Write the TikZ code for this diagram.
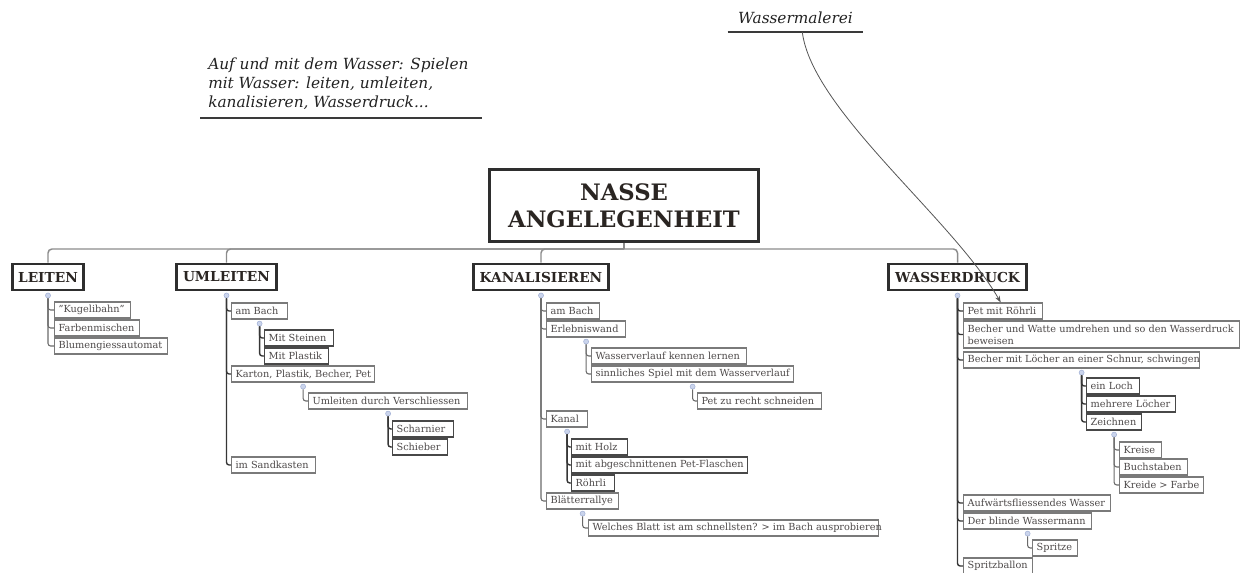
\documentclass[tikz,border=0pt]{standalone}
\usepackage{fontspec}
\setmainfont{DejaVu Serif}
\usetikzlibrary{calc,arrows.meta}
\newdimen\pxu \pxu=0.75pt
\definecolor{leafborder}{HTML}{7A7A7A}
\definecolor{darkborder}{HTML}{484848}
\definecolor{leaftext}{HTML}{4E4A4A}
\definecolor{maintext}{HTML}{2A2522}
\definecolor{mainborder}{HTML}{2E2E2E}
\definecolor{trunkcol}{HTML}{6A6A6A}
\definecolor{darkcol}{HTML}{363636}
\definecolor{topcol}{HTML}{8C8C8C}
\definecolor{dotfill}{HTML}{CAD4EC}
\definecolor{dotdraw}{HTML}{A3B1D6}
\definecolor{floattext}{HTML}{222222}
\definecolor{ulcol}{HTML}{3A3A3A}
\definecolor{curvecol}{HTML}{555555}
\newcommand\leafnode[6][leafbox]{\node[#1] (#2) at (#3,#4) {\makebox[\dimexpr#5\pxu-6pt\relax][l]{#6}};}
\newcommand\dotunder[2]{\node[dotn] (#1) at ($(#2.south)+(0,4)$) {};}
\newcommand\linkto[3][trunk]{\draw[#1] (#2.south) |- (#3.west);}
\begin{document}
\begin{tikzpicture}[x=0.75pt,y=-0.75pt,
 leafbox/.style={draw=leafborder,line width=0.9pt,fill=white,text=leaftext,inner xsep=3pt,inner ysep=0pt,minimum height=12pt,anchor=west,font=\fontsize{7.3}{9}\selectfont},
 darkbox/.style={leafbox,draw=darkborder},
 mainbox/.style={draw=mainborder,line width=2.2pt,fill=white,text=maintext,font=\bfseries\fontsize{10.3}{12}\selectfont,minimum height=19.5pt,inner sep=0pt},
 rootbox/.style={mainbox,font=\bfseries\fontsize{17}{20}\selectfont,align=center,minimum width=201.75pt,minimum height=54pt},
 dotn/.style={circle,inner sep=0pt,minimum size=3.8pt,fill=dotfill,draw=dotdraw,line width=0.4pt},
 trunk/.style={draw=trunkcol,line width=0.8pt,rounded corners=2pt},
 darktrunk/.style={trunk,draw=darkcol,line width=1.05pt},
 topline/.style={draw=topcol,line width=1.1pt,rounded corners=3pt},
 floatbox/.style={text=floattext,font=\itshape\fontsize{11.5}{14.25}\selectfont},
 underline/.style={draw=ulcol,line width=1.6pt},
 curve/.style={draw=curvecol,line width=0.6pt,-{Stealth[length=5pt,width=3.6pt]}}
]
\useasboundingbox (0,0) rectangle (1244,572);

% floating topics
\node[floatbox,anchor=south west,align=left,inner xsep=6pt,inner ysep=6pt] (topic) at (200,118) {Auf und mit dem Wasser: Spielen\\mit Wasser: leiten, umleiten,\\kanalisieren, Wasserdruck...};
\draw[underline] (topic.south west) -- ++(282,0);
\node[floatbox,anchor=south,minimum width=101.25pt,inner ysep=6pt] (wm) at (795.5,32) {Wassermalerei};
\draw[underline] (wm.south west) -- (wm.south east);

% root and main branches
\node[rootbox] (root) at (624,205.5) {NASSE\\ANGELEGENHEIT};
\coordinate (hub) at (624,249);
\node[mainbox,minimum width=53.25pt] (leiten) at (48,277) {LEITEN};
\node[mainbox,minimum width=75pt] (umleiten) at (226.5,277) {UMLEITEN};
\node[mainbox,minimum width=101.25pt] (kanal) at (541,277) {KANALISIEREN};
\node[mainbox,minimum width=103.5pt] (wdruck) at (957.5,277) {WASSERDRUCK};
\draw[topline] (root.south) -- (hub);
\foreach \n in {leiten,umleiten,kanal,wdruck} \draw[topline] (hub) -| (\n.north);

% LEITEN
\leafnode{l1}{54}{310}{76}{\symbol{34}Kugelibahn\symbol{34}}
\leafnode{l2}{54}{328}{85}{Farbenmischen}
\leafnode{l3}{54}{346}{113}{Blumengiessautomat}

% UMLEITEN
\leafnode{u1}{231}{311}{56}{am Bach}
\leafnode[darkbox]{u1a}{264}{338}{69}{Mit Steinen}
\leafnode[darkbox]{u1b}{264}{356}{64}{Mit Plastik}
\leafnode{u2}{231}{374}{143}{Karton, Plastik, Becher, Pet}
\leafnode{u2a}{308}{401}{159}{Umleiten durch Verschliessen}
\leafnode[darkbox]{u2a1}{392}{429}{61}{Scharnier}
\leafnode[darkbox]{u2a2}{392}{447}{55}{Schieber}
\leafnode{u3}{231}{465}{84}{im Sandkasten}

% KANALISIEREN
\leafnode{k1}{546}{311}{53}{am Bach}
\leafnode{k2}{546}{329}{79}{Erlebniswand}
\leafnode{k2a}{591}{356}{155}{Wasserverlauf kennen lernen}
\leafnode{k2b}{591}{374}{202}{sinnliches Spiel mit dem Wasserverlauf}
\leafnode{k2b1}{697}{401}{124}{Pet zu recht schneiden}
\leafnode{k3}{546}{419}{41}{Kanal}
\leafnode[darkbox]{k3a}{571}{447}{56}{mit Holz}
\leafnode[darkbox]{k3b}{571}{465}{176}{mit abgeschnittenen Pet-Flaschen}
\leafnode[darkbox]{k3c}{571}{483}{43}{Röhrli}
\leafnode{k4}{546}{501}{72}{Blätterrallye}
\leafnode{k4a}{588}{528}{290}{Welches Blatt ist am schnellsten? > im Bach ausprobieren}

% WASSERDRUCK
\leafnode{w1}{963}{311}{79}{Pet mit Röhrli}
\node[leafbox,minimum height=20.25pt] (w2) at (963,334.5) {\parbox{\dimexpr276\pxu-6pt\relax}{\raggedright\mbox{Becher und Watte umdrehen und so den Wasserdruck}\\beweisen}};
\leafnode{w3}{963}{360}{236}{Becher mit Löcher an einer Schnur, schwingen}
\leafnode[darkbox]{w3a}{1086}{386}{53}{ein Loch}
\leafnode[darkbox]{w3b}{1086}{404}{89}{mehrere Löcher}
\leafnode[darkbox]{w3c}{1086}{422}{55}{Zeichnen}
\leafnode{w3c1}{1119}{450}{42}{Kreise}
\leafnode{w3c2}{1119}{467}{68}{Buchstaben}
\leafnode{w3c3}{1119}{485}{84}{Kreide > Farbe}
\leafnode{w4}{963}{503}{147}{Aufwärtsfliessendes Wasser}
\leafnode{w5}{963}{521}{128}{Der blinde Wassermann}
\leafnode{w5a}{1032}{548}{45}{Spritze}
\leafnode{w6}{963}{566}{69}{Spritzballon}

% collapse dots
\dotunder{dL}{leiten}
\dotunder{dU}{umleiten}
\dotunder{dK}{kanal}
\dotunder{dW}{wdruck}
\dotunder{dU1}{u1}
\dotunder{dU2}{u2}
\dotunder{dU2a}{u2a}
\dotunder{dK2}{k2}
\dotunder{dK2b}{k2b}
\dotunder{dK3}{k3}
\dotunder{dK4}{k4}
\dotunder{dW3}{w3}
\dotunder{dW3c}{w3c}
\dotunder{dW5}{w5}

% connectors
\linkto{dL}{l1}\linkto{dL}{l2}\linkto{dL}{l3}
\linkto[darktrunk]{dU}{u1}\linkto[darktrunk]{dU}{u2}\linkto[darktrunk]{dU}{u3}
\linkto[darktrunk]{dU1}{u1a}\linkto[darktrunk]{dU1}{u1b}
\linkto{dU2}{u2a}
\linkto[darktrunk]{dU2a}{u2a1}\linkto[darktrunk]{dU2a}{u2a2}
\linkto{dK}{k1}\linkto{dK}{k2}\linkto{dK}{k3}\linkto{dK}{k4}
\linkto{dK2}{k2a}\linkto{dK2}{k2b}
\linkto{dK2b}{k2b1}
\linkto[darktrunk]{dK3}{k3a}\linkto[darktrunk]{dK3}{k3b}\linkto[darktrunk]{dK3}{k3c}
\linkto{dK4}{k4a}
\linkto[darktrunk]{dW}{w1}\linkto[darktrunk]{dW}{w2}\linkto[darktrunk]{dW}{w3}\linkto[darktrunk]{dW}{w4}\linkto[darktrunk]{dW}{w5}\linkto[darktrunk]{dW}{w6}
\linkto[darktrunk]{dW3}{w3a}\linkto[darktrunk]{dW3}{w3b}\linkto[darktrunk]{dW3}{w3c}
\linkto{dW3c}{w3c1}\linkto{dW3c}{w3c2}\linkto{dW3c}{w3c3}
\linkto{dW5}{w5a}

% relation curve
\coordinate (wmfoot) at ($(wm.south west)!0.55!(wm.south east)$);
\coordinate (w1top) at ($(w1.north west)!0.47!(w1.north east)$);
\draw[curve] (wmfoot) .. controls (812,110) and (952,218) .. (w1top);
\end{tikzpicture}
\end{document}
